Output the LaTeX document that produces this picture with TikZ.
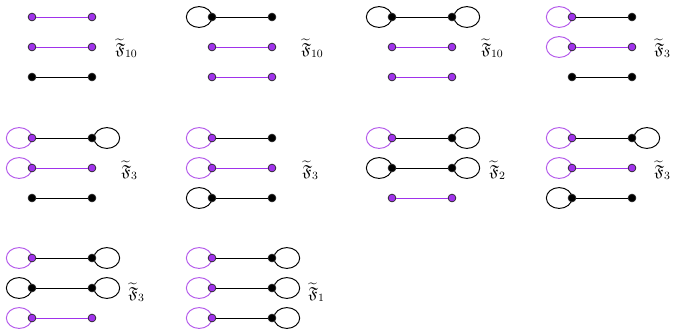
\documentclass[tikz,border=0pt]{standalone}
\usepackage{amssymb}
\usetikzlibrary{shapes.geometric}
\definecolor{vpurple}{RGB}{160,50,235}
\definecolor{lpurple}{RGB}{180,90,235}
\tikzset{
  vtx/.style={circle,draw=black!85,line width=0.5pt,minimum size=5.6pt,inner sep=0pt},
  edgeline/.style={line width=0.7pt},
  loopshape/.style={ellipse,line width=0.7pt,minimum width=18.5pt,minimum height=15pt,inner sep=0pt},
  lab/.style={anchor=west,inner sep=0pt,font=\fontsize{11.5}{13}\selectfont},
}
% #1 name, #2 x, #3 y, #4 left node colour, #5 edge colour, #6 right node colour
\newcommand{\mycomp}[6]{%
  \node[vtx,fill=#4] (#1a) at (#2,#3) {};
  \node[vtx,fill=#6] (#1b) at (#2+60,#3) {};
  \draw[edgeline,#5] (#1a) -- (#1b);
}
% left loop: #1 name, #2 x, #3 y, #4 colour
\newcommand{\myll}[4]{\node[loopshape,draw=#4,anchor=east] (#1l) at (#2+0.5,#3) {};}
% right loop
\newcommand{\myrl}[4]{\node[loopshape,draw=#4,anchor=west] (#1r) at (#2+61.5,#3) {};}
\begin{document}
\begin{tikzpicture}[x=0.72pt,y=-0.72pt]
\useasboundingbox (0,0) rectangle (673,329);
% ---- Panel 1
\mycomp{pa1}{32}{17}{vpurple}{vpurple}{vpurple}
\mycomp{pa2}{32}{47}{vpurple}{vpurple}{vpurple}
\mycomp{pa3}{32}{77}{black}{black}{black}
\node[lab] (la) at (115,48) {$\widetilde{\mathfrak{F}}_{10}$};
% ---- Panel 2
\myll{pb1}{212}{17}{black}
\mycomp{pb1}{212}{17}{black}{black}{black}
\mycomp{pb2}{212}{47}{vpurple}{vpurple}{vpurple}
\mycomp{pb3}{212}{77}{vpurple}{vpurple}{vpurple}
\node[lab] (lb) at (301,48) {$\widetilde{\mathfrak{F}}_{10}$};
% ---- Panel 3
\myll{pc1}{392}{17}{black}
\myrl{pc1}{392}{17}{black}
\mycomp{pc1}{392}{17}{black}{black}{black}
\mycomp{pc2}{392}{47}{vpurple}{vpurple}{vpurple}
\mycomp{pc3}{392}{77}{vpurple}{vpurple}{vpurple}
\node[lab] (lc) at (481,48) {$\widetilde{\mathfrak{F}}_{10}$};
% ---- Panel 4
\myll{pd1}{572}{17}{lpurple}
\mycomp{pd1}{572}{17}{vpurple}{black}{black}
\myll{pd2}{572}{47}{lpurple}
\mycomp{pd2}{572}{47}{vpurple}{vpurple}{vpurple}
\mycomp{pd3}{572}{77}{black}{black}{black}
\node[lab] (ld) at (654,48) {$\widetilde{\mathfrak{F}}_{3}$};
% ---- Panel 5
\myll{pe1}{32}{138}{lpurple}
\myrl{pe1}{32}{138}{black}
\mycomp{pe1}{32}{138}{vpurple}{black}{black}
\myll{pe2}{32}{168}{lpurple}
\mycomp{pe2}{32}{168}{vpurple}{vpurple}{vpurple}
\mycomp{pe3}{32}{198}{black}{black}{black}
\node[lab] (le) at (121,170) {$\widetilde{\mathfrak{F}}_{3}$};
% ---- Panel 6
\myll{pf1}{212}{138}{lpurple}
\mycomp{pf1}{212}{138}{vpurple}{black}{black}
\myll{pf2}{212}{168}{lpurple}
\mycomp{pf2}{212}{168}{vpurple}{vpurple}{vpurple}
\myll{pf3}{212}{198}{black}
\mycomp{pf3}{212}{198}{black}{black}{black}
\node[lab] (lf) at (302,170) {$\widetilde{\mathfrak{F}}_{3}$};
% ---- Panel 7
\myll{pg1}{392}{138}{lpurple}
\myrl{pg1}{392}{138}{black}
\mycomp{pg1}{392}{138}{vpurple}{black}{black}
\myll{pg2}{392}{168}{black}
\myrl{pg2}{392}{168}{black}
\mycomp{pg2}{392}{168}{black}{black}{black}
\mycomp{pg3}{392}{198}{vpurple}{vpurple}{vpurple}
\node[lab] (lg) at (489,170) {$\widetilde{\mathfrak{F}}_{2}$};
% ---- Panel 8
\myll{ph1}{572}{138}{lpurple}
\myrl{ph1}{572}{138}{black}
\mycomp{ph1}{572}{138}{vpurple}{black}{black}
\myll{ph2}{572}{168}{lpurple}
\mycomp{ph2}{572}{168}{vpurple}{vpurple}{vpurple}
\myll{ph3}{572}{198}{black}
\mycomp{ph3}{572}{198}{black}{black}{black}
\node[lab] (lh) at (654,170) {$\widetilde{\mathfrak{F}}_{3}$};
% ---- Panel 9
\myll{pi1}{32}{258}{lpurple}
\myrl{pi1}{32}{258}{black}
\mycomp{pi1}{32}{258}{vpurple}{black}{black}
\myll{pi2}{32}{288}{black}
\myrl{pi2}{32}{288}{black}
\mycomp{pi2}{32}{288}{black}{black}{black}
\myll{pi3}{32}{318}{lpurple}
\mycomp{pi3}{32}{318}{vpurple}{vpurple}{vpurple}
\node[lab] (li) at (128,292) {$\widetilde{\mathfrak{F}}_{3}$};
% ---- Panel 10
\myll{pj1}{212}{258}{lpurple}
\myrl{pj1}{212}{258}{black}
\mycomp{pj1}{212}{258}{vpurple}{black}{black}
\myll{pj2}{212}{288}{lpurple}
\myrl{pj2}{212}{288}{black}
\mycomp{pj2}{212}{288}{vpurple}{black}{black}
\myll{pj3}{212}{318}{lpurple}
\myrl{pj3}{212}{318}{black}
\mycomp{pj3}{212}{318}{vpurple}{black}{black}
\node[lab] (lj) at (308,292) {$\widetilde{\mathfrak{F}}_{1}$};
\end{tikzpicture}
\end{document}
